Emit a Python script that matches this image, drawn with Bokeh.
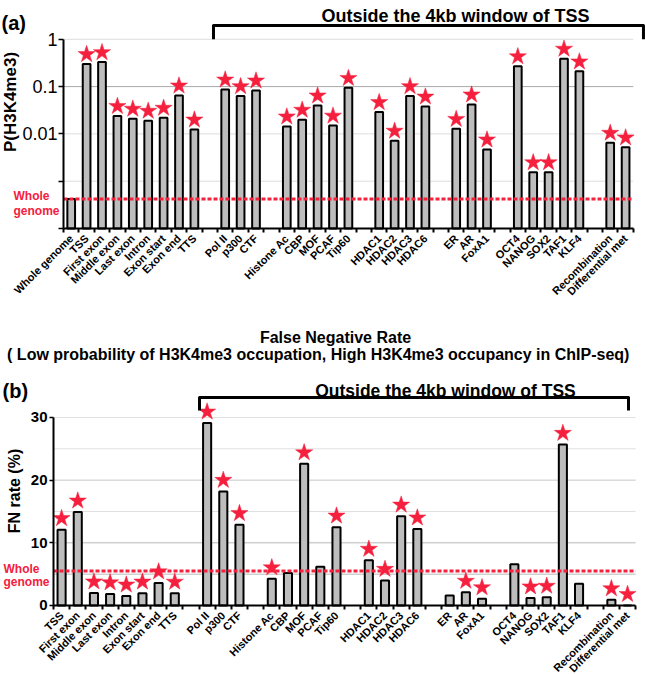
import math
from bokeh.plotting import figure
from bokeh.models import Range1d, FixedTicker, Label
from bokeh.layouts import column
from bokeh.embed import file_html
from bokeh.resources import INLINE

FONT = "Liberation Sans"
RED = "#f5203e"
BAR_FILL = "#bdbdbd"

# ---------------- data ----------------
# None marks an empty slot on the category axis
a_categories = ["Whole genome", "TSS", "First exon", "Middle exon", "Last exon", "Intron",
                "Exon start", "Exon end", "TTS", None,
                "Pol II", "p300", "CTF", None,
                "Histone Ac", "CBP", "MOF", "PCAF", "Tip60", None,
                "HDAC1", "HDAC2", "HDAC3", "HDAC6", None,
                "ER", "AR", "FoxA1", None,
                "OCT4", "NANOG", "SOX2", "TAF1", "KLF4", None,
                "Recombination", "Differential met"]
a_values = [0.00042, 0.30, 0.33, 0.024, 0.021, 0.019, 0.022, 0.065, 0.0124,
            0.087, 0.063, 0.083,
            0.0144, 0.020, 0.040, 0.015, 0.094,
            0.029, 0.0072, 0.063, 0.038,
            0.0128, 0.042, 0.0047,
            0.27, 0.00155, 0.00155, 0.39, 0.21,
            0.0065, 0.0052]
a_starred = ["TSS", "First exon", "Middle exon", "Last exon", "Intron", "Exon start",
             "Exon end", "TTS", "Pol II", "p300", "CTF", "Histone Ac", "CBP", "MOF",
             "PCAF", "Tip60", "HDAC1", "HDAC2", "HDAC3", "HDAC6", "ER", "AR", "FoxA1",
             "OCT4", "NANOG", "SOX2", "TAF1", "KLF4", "Recombination", "Differential met"]
a_whole_genome = 0.00042
a_major_ticks = [0.01, 0.1, 1]
a_minor_ticks = [0.0001, 0.001]
a_tick_labels = ["0.01", "0.1", "1"]
a_grid = [0.001, 0.01, 0.1, 1]
a_grid_colors = ["#dddddd", "#dddddd", "#a8a8a8", "#dddddd"]

b_categories = ["TSS", "First exon", "Middle exon", "Last exon", "Intron",
                "Exon start", "Exon end", "TTS", None,
                "Pol II", "p300", "CTF", None,
                "Histone Ac", "CBP", "MOF", "PCAF", "Tip60", None,
                "HDAC1", "HDAC2", "HDAC3", "HDAC6", None,
                "ER", "AR", "FoxA1", None,
                "OCT4", "NANOG", "SOX2", "TAF1", "KLF4", None,
                "Recombination", "Differential met"]
b_values = [12.1, 14.9, 2.0, 1.85, 1.5, 1.97, 3.6, 1.95,
            29.1, 18.2, 12.9,
            4.25, 5.2, 22.6, 6.2, 12.5,
            7.2, 4.0, 14.25, 12.2,
            1.6, 2.1, 1.07,
            6.6, 1.2, 1.3, 25.7, 3.45,
            0.9, 0.0]
b_starred = ["TSS", "First exon", "Middle exon", "Last exon", "Intron", "Exon start",
             "Exon end", "TTS", "Pol II", "p300", "CTF", "Histone Ac", "MOF", "Tip60",
             "HDAC1", "HDAC2", "HDAC3", "HDAC6", "AR", "FoxA1", "NANOG", "SOX2",
             "TAF1", "Recombination", "Differential met"]
b_whole_genome = 5.5
b_major_ticks = [0, 10, 20, 30]
b_grid = [5, 10, 15, 20, 25, 30]
b_grid_colors = ["#b8b8b8", "#b8b8b8", "#e0e0e0", "#c8c8c8", "#e0e0e0", "#e0e0e0"]

bracket_text = "Outside the 4kb window of TSS"
whole_text = ["Whole", "genome"]


def label(p, x, y, text, size, color="black", bold=True, align="left",
          baseline="alphabetic", angle=0.0):
    p.add_layout(Label(x=x, y=y, text=text, text_font=FONT, text_font_size=size,
                       text_font_style="bold" if bold else "normal",
                       text_color=color, text_align=align, text_baseline=baseline,
                       angle=angle))


def build(cats, values, starred, whole, width, height, x_range, y_range,
          log, bottom_val, star_shift):
    n = len(cats)
    idx = [i for i, c in enumerate(cats) if c is not None]
    names = [cats[i] for i in idx]
    p = figure(width=width, height=height, output_backend="svg", toolbar_location=None,
               x_range=x_range, y_range=y_range,
               y_axis_type="log" if log else "linear",
               min_border=0, min_border_left=0, min_border_right=0,
               min_border_top=0, min_border_bottom=0)
    p.outline_line_color = None
    p.grid.visible = False
    p.background_fill_color = "white"
    p.border_fill_color = "white"

    # bars
    p.vbar(x=idx, top=values, bottom=bottom_val, width=0.5, fill_color=BAR_FILL,
           line_color="black", line_width=2)
    # stars
    sx = [i for i, nm in zip(idx, names) if nm in starred]
    sv = [v for v, nm in zip(values, names) if nm in starred]
    sy = [v * star_shift if log else v + star_shift for v in sv]
    p.scatter(x=sx, y=sy, marker="star", size=18, fill_color=RED, line_color=RED,
              line_width=0.5)
    # whole genome line
    p.segment(x0=[-0.5], x1=[n - 0.5], y0=[whole], y1=[whole], line_color=RED,
              line_width=3, line_dash="4 2")

    # x axis (drawn at the baseline, inside the full-size frame)
    xa = p.xaxis[0]
    xa.fixed_location = bottom_val
    xa.ticker = FixedTicker(ticks=idx, minor_ticks=[k - 0.5 for k in range(n + 1)])
    xa.major_label_overrides = {i: nm for i, nm in zip(idx, names)}
    xa.major_label_orientation = math.pi / 4
    xa.major_tick_line_color = None
    xa.major_tick_in = 0
    xa.major_tick_out = 0
    xa.minor_tick_in = 0
    xa.minor_tick_out = 4
    xa.minor_tick_line_width = 2
    xa.minor_tick_line_color = "black"
    xa.axis_line_width = 2
    xa.axis_line_color = "black"
    xa.major_label_standoff = 4
    xa.major_label_text_font = FONT
    xa.major_label_text_font_style = "bold"
    xa.major_label_text_font_size = "11px"
    xa.major_label_text_color = "black"
    xa.bounds = (-0.5, n - 0.5)

    ya = p.yaxis[0]
    ya.fixed_location = -0.5
    ya.axis_line_width = 2
    ya.major_tick_in = 0
    ya.major_label_text_font = FONT
    ya.major_label_text_color = "black"
    return p


# ---------------- panel (a) ----------------
# frame = whole figure; x 63 px is the left end of the category axis, 15.4 px per slot,
# 47.3 px per decade, baseline (1e-4) at 228 px
pa = build(a_categories, a_values, a_starred, a_whole_genome, 645, 316,
           Range1d(-4.591, 37.292), Range1d(1.379e-6, 6.61), True, 0.0001, 1.6)
na = len(a_categories)
for g, c in zip(a_grid, a_grid_colors):
    pa.segment(x0=[-0.5], x1=[na - 0.5], y0=[g], y1=[g], line_color=c, line_width=1,
               level="underlay")
ya = pa.yaxis[0]
ya.ticker = FixedTicker(ticks=a_major_ticks, minor_ticks=a_minor_ticks)
ya.major_label_overrides = {t: s for t, s in zip(a_major_ticks, a_tick_labels)}
ya.bounds = (0.0001, 1)
ya.major_tick_out = 5
ya.minor_tick_in = 0
ya.minor_tick_out = 5
ya.major_tick_line_width = 1.5
ya.minor_tick_line_width = 1.5
ya.minor_tick_line_color = "black"
ya.major_label_standoff = 1
ya.major_label_text_font_size = "18px"

pol_a = a_categories.index("Pol II")
end_a = a_categories.index("Differential met")
pa.line(x=[pol_a - 0.76, pol_a - 0.76, end_a + 1.16, end_a + 1.16],
        y=[1.0, 1.957, 1.957, 1.0], line_color="black", line_width=3,
        line_join="round")
label(pa, 24.95, 3.18, bracket_text, "18px", align="center")
label(pa, -4.526, 2.265, "(a)", "20px")
label(pa, -3.747, 0.000475, whole_text[0], "12px", color=RED)
label(pa, -3.747, 0.000229, whole_text[1], "12px", color=RED)
label(pa, -3.94, 0.0472, "P(H3K4me3)", "17px", align="center", baseline="middle",
      angle=math.pi / 2)

# ---------------- panel (b) ----------------
# x 53 px is the left end of the category axis, 16.17 px per slot, 6.267 px per %
pb = build(b_categories, b_values, b_starred, b_whole_genome, 645, 358,
           Range1d(-3.778, 36.11), Range1d(-11.01, 46.11), False, 0, 1.8)
nb = len(b_categories)
for g, c in zip(b_grid, b_grid_colors):
    pb.segment(x0=[-0.5], x1=[nb - 0.5], y0=[g], y1=[g], line_color=c, line_width=1,
               level="underlay")
yb = pb.yaxis[0]
yb.ticker = FixedTicker(ticks=b_major_ticks)
yb.bounds = (0, 30)
yb.major_tick_out = 4
yb.major_tick_line_width = 1.5
yb.minor_tick_line_color = None
yb.major_label_standoff = 2
yb.major_label_text_font_style = "bold"
yb.major_label_text_font_size = "15px"

pol_b = b_categories.index("Pol II")
end_b = b_categories.index("Differential met")
pb.line(x=[pol_b - 0.47, pol_b - 0.47, end_b + 0.06, end_b + 0.06],
        y=[31.1, 33.19, 33.19, 31.1], line_color="black", line_width=3,
        line_join="round")
label(pb, 16.94, 42.76, "False Negative Rate", "16px", align="center")
label(pb, 16.01, 40.05,
      "( Low probability of  H3K4me3 occupation, High H3K4me3 occupancy in ChIP-seq)",
      "16px", align="center")
label(pb, 23.74, 34.3, bracket_text, "17.5px", align="center")
label(pb, -3.654, 34.3, "(b)", "20px")
label(pb, -3.592, 5.75, whole_text[0], "12px", color=RED)
label(pb, -3.592, 3.67, whole_text[1], "12px", color=RED)
label(pb, -2.91, 18.27, "FN rate (%)", "16px", align="center", baseline="middle",
      angle=math.pi / 2)

layout = column(pa, pb, spacing=0)
open("out.html", "w").write(file_html(layout, INLINE))
